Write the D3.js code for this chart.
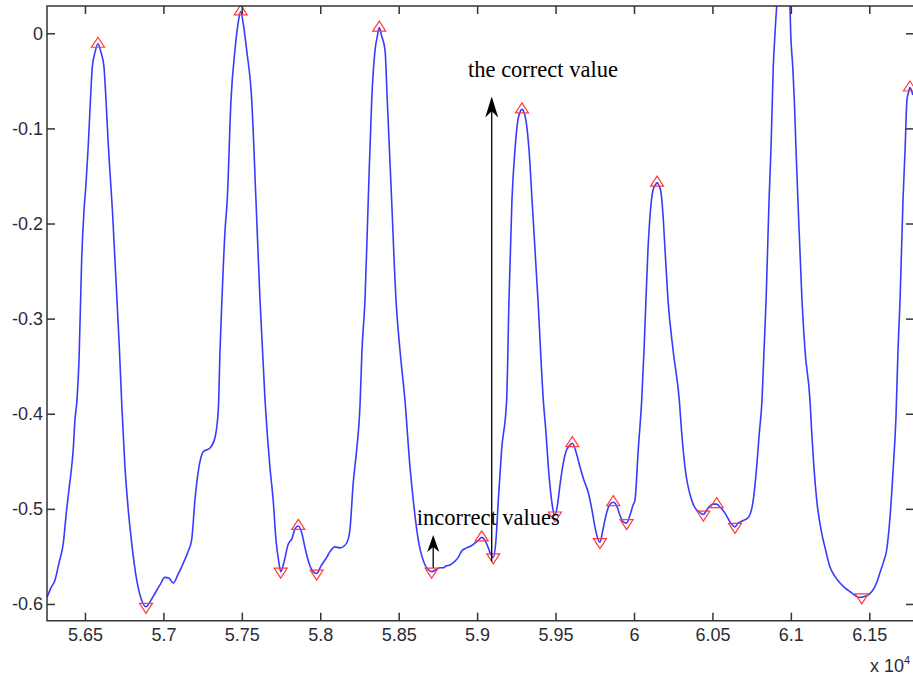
<!DOCTYPE html>
<html>
<head>
<meta charset="utf-8">
<style>
    body { margin: 0; background: #fff; }
    svg { display: block; }
    .tick-label { font-family: "Liberation Sans", Arial, sans-serif; font-size: 18px; fill: #2b2b38; }
    .note { font-family: "Liberation Serif", "Times New Roman", serif; font-size: 22.5px; fill: #000; }
</style>
<script src="https://cdn.jsdelivr.net/npm/d3@7"></script>
</head>
<body>
<svg id="chart" width="913" height="679"></svg>
<script>
// signal trace (x in units of 10^4)
var curveX = [5.6258, 5.6283, 5.6309, 5.6334, 5.6362, 5.6383, 5.6398, 5.6415, 5.6425, 5.6436,
    5.6449, 5.6462, 5.6479, 5.6494, 5.6506, 5.6521, 5.6535, 5.6547, 5.6564, 5.6583,
    5.6602, 5.6621, 5.6634, 5.6649, 5.6659, 5.6675, 5.6691, 5.6719, 5.6736, 5.6755,
    5.6776, 5.6798, 5.6830, 5.6857, 5.6889, 5.6921, 5.6946, 5.6978, 5.7010, 5.7036,
    5.7063, 5.7093, 5.7127, 5.7157, 5.7180, 5.7201, 5.7222, 5.7254, 5.7297, 5.7329,
    5.7350, 5.7361, 5.7373, 5.7393, 5.7407, 5.7431, 5.7456, 5.7475, 5.7493, 5.7510,
    5.7531, 5.7563, 5.7590, 5.7616, 5.7648, 5.7679, 5.7700, 5.7718, 5.7734, 5.7748,
    5.7769, 5.7794, 5.7820, 5.7839, 5.7860, 5.7880, 5.7903, 5.7928, 5.7954, 5.7977,
    5.8005, 5.8041, 5.8062, 5.8094, 5.8126, 5.8168, 5.8189, 5.8210, 5.8232, 5.8253,
    5.8266, 5.8285, 5.8306, 5.8328, 5.8349, 5.8365, 5.8376, 5.8390, 5.8413, 5.8427,
    5.8455, 5.8483, 5.8508, 5.8540, 5.8572, 5.8593, 5.8625, 5.8668, 5.8690, 5.8710,
    5.8738, 5.8763, 5.8784, 5.8801, 5.8827, 5.8852, 5.8880, 5.8903, 5.8933, 5.8961,
    5.8986, 5.9009, 5.9029, 5.9050, 5.9069, 5.9085, 5.9103, 5.9120, 5.9135, 5.9156,
    5.9188, 5.9203, 5.9222, 5.9241, 5.9260, 5.9273, 5.9286, 5.9299, 5.9315, 5.9331,
    5.9350, 5.9388, 5.9422, 5.9439, 5.9454, 5.9471, 5.9484, 5.9496, 5.9512, 5.9528,
    5.9547, 5.9566, 5.9586, 5.9607, 5.9630, 5.9656, 5.9681, 5.9709, 5.9732, 5.9751,
    5.9767, 5.9783, 5.9802, 5.9821, 5.9844, 5.9868, 5.9888, 5.9911, 5.9933, 5.9953,
    5.9974, 5.9994, 6.0006, 6.0027, 6.0049, 6.0064, 6.0076, 6.0089, 6.0105, 6.0121,
    6.0134, 6.0147, 6.0159, 6.0172, 6.0185, 6.0198, 6.0217, 6.0249, 6.0289, 6.0304,
    6.0325, 6.0368, 6.0389, 6.0414, 6.0442, 6.0465, 6.0484, 6.0504, 6.0527, 6.0548,
    6.0574, 6.0599, 6.0621, 6.0644, 6.0663, 6.0687, 6.0729, 6.0760, 6.0782, 6.0799,
    6.0816, 6.0829, 6.0842, 6.0861, 6.0873, 6.0888, 6.0899, 6.0910, 6.0924, 6.0950,
    6.0978, 6.0994, 6.0999, 6.1012, 6.1022, 6.1033, 6.1045, 6.1071, 6.1090, 6.1122,
    6.1133, 6.1147, 6.1165, 6.1196, 6.1224, 6.1249, 6.1281, 6.1313, 6.1345, 6.1377,
    6.1409, 6.1431, 6.1452, 6.1473, 6.1498, 6.1525, 6.1546, 6.1568, 6.1590, 6.1611,
    6.1632, 6.1653, 6.1670, 6.1683, 6.1696, 6.1715, 6.1728, 6.1740, 6.1750, 6.1759,
    6.1769, 6.1778];
var curveY = [-0.593, -0.583, -0.575, -0.557, -0.536, -0.501, -0.480, -0.456, -0.438, -0.407,
    -0.386, -0.344, -0.238, -0.186, -0.160, -0.118, -0.070, -0.035, -0.020, -0.011,
    -0.020, -0.035, -0.070, -0.118, -0.145, -0.186, -0.238, -0.330, -0.395, -0.456,
    -0.501, -0.536, -0.575, -0.594, -0.603, -0.596, -0.589, -0.580, -0.572, -0.573,
    -0.578, -0.569, -0.557, -0.545, -0.533, -0.491, -0.461, -0.440, -0.436, -0.425,
    -0.396, -0.333, -0.281, -0.207, -0.175, -0.070, -0.018, 0.009, 0.023, 0.009,
    -0.018, -0.070, -0.175, -0.281, -0.386, -0.456, -0.491, -0.533, -0.554, -0.566,
    -0.556, -0.538, -0.531, -0.521, -0.518, -0.524, -0.541, -0.557, -0.566, -0.568,
    -0.560, -0.551, -0.545, -0.540, -0.541, -0.536, -0.522, -0.473, -0.438, -0.393,
    -0.333, -0.281, -0.175, -0.070, -0.018, -0.002, 0.006, -0.002, -0.018, -0.070,
    -0.175, -0.281, -0.333, -0.386, -0.456, -0.491, -0.533, -0.559, -0.564, -0.566,
    -0.564, -0.562, -0.562, -0.560, -0.559, -0.556, -0.551, -0.544, -0.541, -0.539,
    -0.536, -0.533, -0.530, -0.533, -0.540, -0.547, -0.551, -0.533, -0.491, -0.438,
    -0.386, -0.281, -0.175, -0.123, -0.091, -0.083, -0.080, -0.083, -0.096, -0.123,
    -0.175, -0.281, -0.386, -0.420, -0.456, -0.486, -0.501, -0.507, -0.496, -0.475,
    -0.454, -0.440, -0.434, -0.431, -0.440, -0.456, -0.470, -0.483, -0.501, -0.519,
    -0.530, -0.535, -0.522, -0.507, -0.496, -0.493, -0.496, -0.507, -0.514, -0.515,
    -0.507, -0.496, -0.491, -0.438, -0.386, -0.333, -0.281, -0.228, -0.186, -0.165,
    -0.160, -0.157, -0.160, -0.167, -0.191, -0.228, -0.281, -0.333, -0.386, -0.420,
    -0.456, -0.491, -0.499, -0.503, -0.506, -0.501, -0.497, -0.495, -0.495, -0.498,
    -0.503, -0.510, -0.516, -0.519, -0.515, -0.513, -0.509, -0.491, -0.456, -0.420,
    -0.386, -0.333, -0.281, -0.175, -0.123, -0.035, 0.000, 0.029, 0.051, 0.058,
    0.051, 0.029, 0.000, -0.035, -0.070, -0.123, -0.175, -0.281, -0.333, -0.386,
    -0.420, -0.456, -0.491, -0.525, -0.545, -0.561, -0.571, -0.578, -0.583, -0.587,
    -0.591, -0.593, -0.593, -0.592, -0.590, -0.585, -0.578, -0.567, -0.556, -0.543,
    -0.509, -0.456, -0.404, -0.333, -0.281, -0.175, -0.123, -0.070, -0.062, -0.057,
    -0.060, -0.065];

// detected extrema
var peakX = [5.6583, 5.7493, 5.7860, 5.8376, 5.9029, 5.9286, 5.9607, 5.9868, 6.0147, 6.0527, 6.1759];
var peakY = [-0.011, 0.023, -0.518, 0.006, -0.530, -0.080, -0.431, -0.493, -0.157, -0.495, -0.057];
var valleyX = [5.6889, 5.7748, 5.7977, 5.8710, 5.9103, 5.9496, 5.9783, 5.9953, 6.0442, 6.0644, 6.1452];
var valleyY = [-0.603, -0.566, -0.568, -0.566, -0.551, -0.507, -0.535, -0.515, -0.506, -0.519, -0.593];

var xTicks = [5.65, 5.7, 5.75, 5.8, 5.85, 5.9, 5.95, 6, 6.05, 6.1, 6.15];
var xTickLabels = ["5.65", "5.7", "5.75", "5.8", "5.85", "5.9", "5.95", "6", "6.05", "6.1", "6.15"];
var yTicks = [0, -0.1, -0.2, -0.3, -0.4, -0.5, -0.6];
var yTickLabels = ["0", "-0.1", "-0.2", "-0.3", "-0.4", "-0.5", "-0.6"];

// annotations: text anchors and arrow ends in data units
var noteTexts = ["the correct value", "incorrect values"];
var noteX = [5.8942, 5.8615];
var noteY = [-0.046, -0.517];
var arrowX = [5.9093, 5.8720];
var arrowFromY = [-0.555, -0.562];
var arrowToY = [-0.0665, -0.5276];

var svg = d3.select("#chart");
var plotLeft = 47, plotRight = 914, plotTop = 6, plotBottom = 620.7;

var x = d3.scaleLinear().domain([5.6258, 6.1785]).range([plotLeft, plotRight]);
var y = d3.scaleLinear().domain([-0.6176, 0.0287]).range([plotBottom, plotTop]);

svg.append("defs").append("clipPath").attr("id", "plotclip")
    .append("rect").attr("x", plotLeft).attr("y", plotTop)
    .attr("width", plotRight - plotLeft).attr("height", plotBottom - plotTop);

var points = curveX.map(function (d, i) { return [d, curveY[i]]; });
var line = d3.line().curve(d3.curveMonotoneX)
    .x(function (d) { return x(d[0]); }).y(function (d) { return y(d[1]); });

var plot = svg.append("g").attr("clip-path", "url(#plotclip)");
plot.append("path").datum(points)
    .attr("fill", "none").attr("stroke", "#3a3aff").attr("stroke-width", 1.6)
    .attr("stroke-linejoin", "round").attr("d", line);

// markers
var tw = 6.5, th = 5;
plot.selectAll(".peak").data(peakX).enter().append("path")
    .attr("fill", "none").attr("stroke", "#ff3b3b").attr("stroke-width", 1.2)
    .attr("d", function (d, i) {
        var cx = x(d), cy = y(peakY[i]) - 1.5;
        return "M" + (cx - tw) + "," + (cy + th) + "L" + (cx + tw) + "," + (cy + th) + "L" + cx + "," + (cy - th) + "Z";
    });
plot.selectAll(".valley").data(valleyX).enter().append("path")
    .attr("fill", "none").attr("stroke", "#ff3b3b").attr("stroke-width", 1.2)
    .attr("d", function (d, i) {
        var cx = x(d), cy = y(valleyY[i]) + 1.5;
        return "M" + (cx - tw) + "," + (cy - th) + "L" + (cx + tw) + "," + (cy - th) + "L" + cx + "," + (cy + th) + "Z";
    });

// axes box
var axisColor = "#333";
svg.append("path").attr("fill", "none").attr("stroke", axisColor).attr("stroke-width", 1.5)
    .attr("d", "M" + plotRight + "," + plotTop + "L" + plotLeft + "," + plotTop + "L" + plotLeft + "," + plotBottom +
        "L" + plotRight + "," + plotBottom + "L" + plotRight + "," + plotTop);

var tickLen = 8;
var xAxisBottom = d3.axisBottom(x).tickValues(xTicks).tickSize(-tickLen).tickPadding(16.5)
    .tickFormat(function (d, i) { return xTickLabels[i]; });
var gxb = svg.append("g").attr("transform", "translate(0," + plotBottom + ")").call(xAxisBottom);
var xAxisTop = d3.axisTop(x).tickValues(xTicks).tickSize(-tickLen).tickFormat("");
var gxt = svg.append("g").attr("transform", "translate(0," + plotTop + ")").call(xAxisTop);
var yAxisLeft = d3.axisLeft(y).tickValues(yTicks).tickSize(-tickLen).tickPadding(4)
    .tickFormat(function (d, i) { return yTickLabels[i]; });
var gyl = svg.append("g").attr("transform", "translate(" + plotLeft + ",0)").call(yAxisLeft);
var yAxisRight = d3.axisRight(y).tickValues(yTicks).tickSize(-tickLen).tickFormat("");
var gyr = svg.append("g").attr("transform", "translate(" + plotRight + ",0)").call(yAxisRight);

[gxb, gxt, gyl, gyr].forEach(function (g) {
    g.select(".domain").remove();
    g.selectAll(".tick line").attr("stroke", axisColor).attr("stroke-width", 1.5);
    g.selectAll(".tick text").attr("class", "tick-label").attr("font-family", null).attr("font-size", null);
});
gxb.selectAll(".tick text").attr("dy", "0.2em");

// exponent label
var expo = svg.append("text").attr("class", "tick-label").attr("x", 870).attr("y", 672).style("font-size", "18px");
expo.append("tspan").text("x 10");
expo.append("tspan").attr("dy", -8).style("font-size", "11px").text("4");

// annotations
function arrow(g, ax, y0, y1, headLen, headW) {
    var px = x(ax), pa = y(y0), pb = y(y1);
    g.append("line").attr("x1", px).attr("x2", px).attr("y1", pa).attr("y2", pb + headLen * 0.6)
        .attr("stroke", "#000").attr("stroke-width", 1.3);
    g.append("path").attr("fill", "#000")
        .attr("d", "M" + px + "," + pb + "L" + (px + headW / 2) + "," + (pb + headLen) +
            "L" + px + "," + (pb + headLen * 0.7) + "L" + (px - headW / 2) + "," + (pb + headLen) + "Z");
}
var notes = svg.append("g");
arrow(notes, arrowX[0], arrowFromY[0], arrowToY[0], 21, 13);
arrow(notes, arrowX[1], arrowFromY[1], arrowToY[1], 17, 12);
noteTexts.forEach(function (t, i) {
    notes.append("text").attr("class", "note").attr("x", x(noteX[i])).attr("y", y(noteY[i])).text(t);
});
</script>
</body>
</html>
